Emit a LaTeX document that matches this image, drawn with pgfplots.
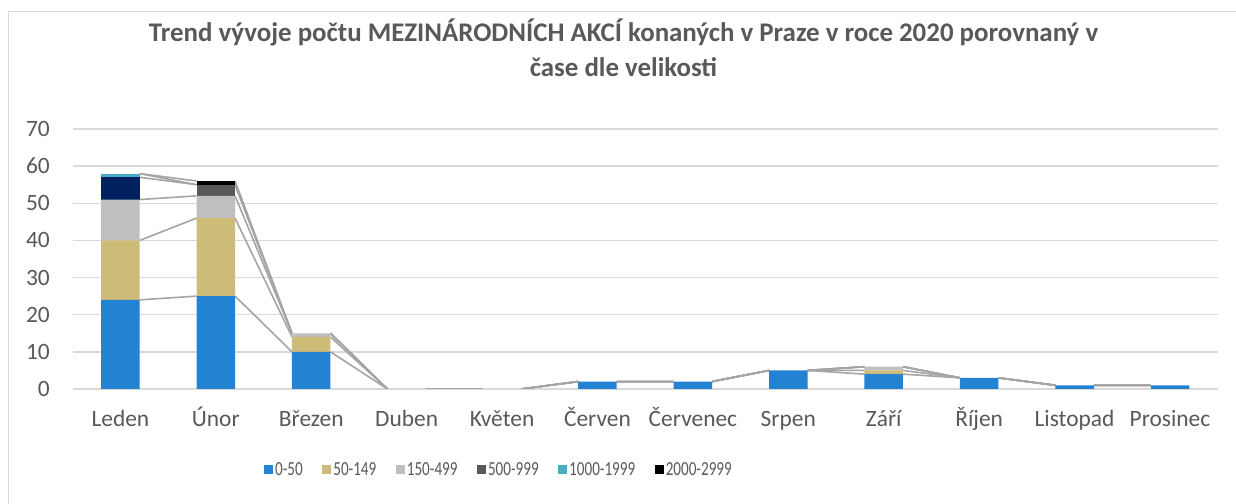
\documentclass[border=0pt]{standalone}
\usepackage{graphicx}
\usepackage{pgfplots}
\pgfplotsset{compat=1.18}
\usepackage{pgfplotstable}
\usepackage{fontspec}
\setmainfont{Carlito}

\definecolor{sA}{HTML}{2382D2}
\definecolor{sB}{HTML}{CDBB78}
\definecolor{sC}{HTML}{BFBFBF}
\definecolor{sD}{HTML}{595959}
\definecolor{sDn}{HTML}{002060}
\definecolor{sE}{HTML}{4BACC6}
\definecolor{sF}{HTML}{000000}
\definecolor{serline}{HTML}{A5A5A5}
\definecolor{gridgray}{HTML}{D9D9D9}
\definecolor{txtgray}{HTML}{595959}

\newcommand{\legtxt}[1]{\scalebox{0.76}[1]{#1}}

% počty akcí po měsících (sloupce = velikostní skupiny)
\pgfplotstableread{
x  a   b   c   d  dn  e  f
0  24  16  11  0  6   1  0
1  25  21  6   3  0   0  1
2  10  4   1   0  0   0  0
3  0   0   0   0  0   0  0
4  0   0   0   0  0   0  0
5  2   0   0   0  0   0  0
6  2   0   0   0  0   0  0
7  5   0   0   0  0   0  0
8  4   1   1   0  0   0  0
9  3   0   0   0  0   0  0
10 1   0   0   0  0   0  0
11 1   0   0   0  0   0  0
}\bars

% spojnice řad: kumulované hodnoty na hranách sloupců
\pgfplotstableread{
x       c1  c2  c3  c4  c5  c6
0.2017  24  40  51  57  58  58
0.7983  25  46  52  55  55  56
1       nan nan nan nan nan nan
1.2017  25  46  52  55  55  56
1.7983  10  14  15  15  15  15
2       nan nan nan nan nan nan
2.2017  10  14  15  15  15  15
2.7983  0   0   0   0   0   0
3       nan nan nan nan nan nan
3.2017  0   0   0   0   0   0
3.7983  0   0   0   0   0   0
4       nan nan nan nan nan nan
4.2017  0   0   0   0   0   0
4.7983  2   2   2   2   2   2
5       nan nan nan nan nan nan
5.2017  2   2   2   2   2   2
5.7983  2   2   2   2   2   2
6       nan nan nan nan nan nan
6.2017  2   2   2   2   2   2
6.7983  5   5   5   5   5   5
7       nan nan nan nan nan nan
7.2017  5   5   5   5   5   5
7.7983  4   5   6   6   6   6
8       nan nan nan nan nan nan
8.2017  4   5   6   6   6   6
8.7983  3   3   3   3   3   3
9       nan nan nan nan nan nan
9.2017  3   3   3   3   3   3
9.7983  1   1   1   1   1   1
10      nan nan nan nan nan nan
10.2017 1   1   1   1   1   1
10.7983 1   1   1   1   1   1
}\serlines

\pgfplotsset{
  common/.style={
    at={(0,0)}, anchor=south west,
    scale only axis, width=1145bp, height=260bp,
    xmin=-0.5, xmax=11.5, ymin=0, ymax=70,
  },
}

\begin{document}
\begin{tikzpicture}[x=1bp,y=1bp]
% počátek = levý dolní roh oblasti grafu
\useasboundingbox (-72.7,-115) rectangle (1163.3,389);
\fill[white] (-72.7,-115) rectangle (1163.3,389);
\draw[gridgray, line width=1.3bp] (-64.2,-130) -- (-64.2,377.5) -- (1175,377.5);

\node[font=\fontsize{27}{35}\selectfont\bfseries, text=txtgray, align=center]
  at (550.8,341.5) {Trend vývoje počtu MEZINÁRODNÍCH AKCÍ konaných v Praze v roce 2020 porovnaný v\\čase dle velikosti};

\begin{axis}[common,
  ytick={0,10,...,70},
  xtick={0,...,11},
  xticklabels={Leden,Únor,Březen,Duben,Květen,Červen,Červenec,Srpen,Září,Říjen,Listopad,Prosinec},
  ymajorgrids, grid style={gridgray, line width=1.3bp},
  axis line style={draw=none},
  major tick length=0pt,
  tick label style={font=\fontsize{23.5}{23.5}\selectfont, text=txtgray},
  yticklabel style={inner sep=0pt, xshift=-22.7bp},
  xticklabel style={inner sep=0pt, anchor=base, yshift=-37.5bp},
  /pgf/number format/assume math mode=true,
  unbounded coords=jump,
]
\addplot[serline, line width=1.6bp] table[x=x, y=c1] {\serlines};
\addplot[serline, line width=1.6bp] table[x=x, y=c2] {\serlines};
\addplot[serline, line width=1.6bp] table[x=x, y=c3] {\serlines};
\addplot[serline, line width=1.6bp] table[x=x, y=c4] {\serlines};
\addplot[serline, line width=1.6bp] table[x=x, y=c5] {\serlines};
\addplot[serline, line width=1.6bp] table[x=x, y=c6] {\serlines};
\end{axis}

\begin{axis}[common, hide axis,
  ybar stacked, bar width=38.5bp,
  legend columns=-1,
  legend style={at={(0.3723,-0.3115)}, anchor=center, draw=none, fill=none,
    font=\fontsize{20}{20}\selectfont, text=txtgray,
    /tikz/every even column/.append style={column sep=17.5bp},
    nodes={inner sep=2bp}},
  legend image code/.code={\fill[#1] (0bp,-4.5bp) rectangle (9bp,4.5bp);},
]
\addplot[fill=sA, draw=none] table[x=x, y=a] {\bars};
\addplot[fill=sB, draw=none] table[x=x, y=b] {\bars};
\addplot[fill=sC, draw=none] table[x=x, y=c] {\bars};
\addplot[fill=sD, draw=none] table[x=x, y=d] {\bars};
\addplot[fill=sDn, draw=none, forget plot] table[x=x, y=dn] {\bars};
\addplot[fill=sE, draw=none] table[x=x, y=e] {\bars};
\addplot[fill=sF, draw=none] table[x=x, y=f] {\bars};
\legend{\legtxt{0-50},\legtxt{50-149},\legtxt{150-499},\legtxt{500-999},\legtxt{1000-1999},\legtxt{2000-2999}}
\end{axis}
\end{tikzpicture}
\end{document}
